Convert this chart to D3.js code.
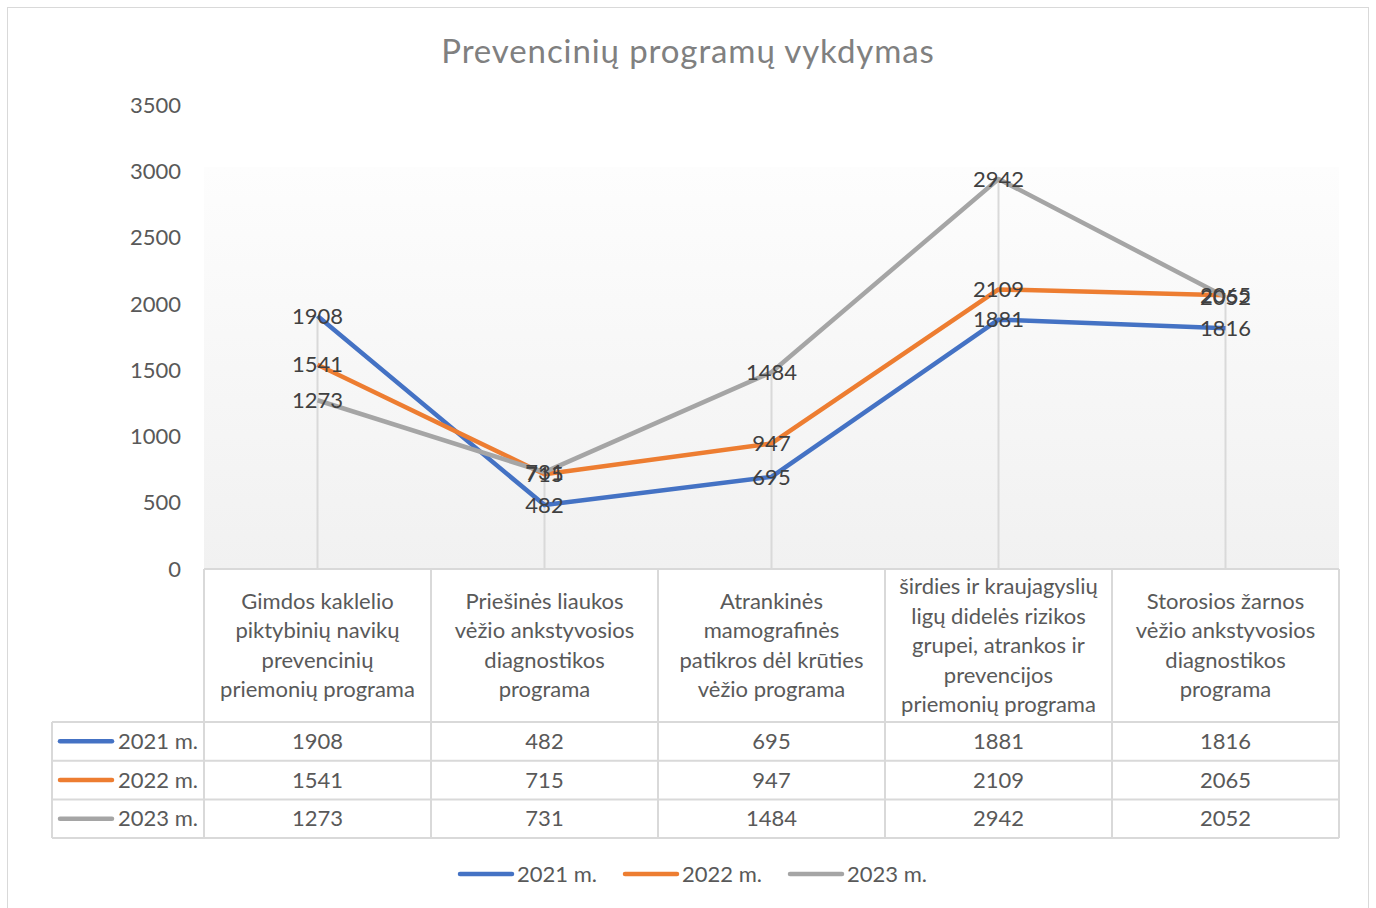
<!DOCTYPE html>
<meta charset="utf-8">
<style>
body { margin: 0; background: #fff; }
svg { display: block; font-family: Lato, "Open Sans", sans-serif; }
.tick-label { fill: #595959; font-size: 22px; }
.cell-text { fill: #595959; font-size: 22px; }
.data-label { fill: #404040; font-size: 22px; }
.grid { stroke: #d9d9d9; }
</style>
<svg width="1376" height="908"></svg>
<script src="https://d3js.org/d3.v7.min.js"></script>
<script>

var title = "Prevencinių programų vykdymas";

var categories = [
  "Gimdos kaklelio\npiktybinių navikų\nprevencinių\npriemonių programa",
  "Priešinės liaukos\nvėžio ankstyvosios\ndiagnostikos\nprograma",
  "Atrankinės\nmamografinės\npatikros dėl krūties\nvėžio programa",
  "širdies ir kraujagyslių\nligų didelės rizikos\ngrupei, atrankos ir\nprevencijos\npriemonių programa",
  "Storosios žarnos\nvėžio ankstyvosios\ndiagnostikos\nprograma"
];

var seriesNames = ["2021 m.", "2022 m.", "2023 m."];
var values2021 = [1908, 482, 695, 1881, 1816];
var values2022 = [1541, 715, 947, 2109, 2065];
var values2023 = [1273, 731, 1484, 2942, 2052];
var yTicks = [0, 500, 1000, 1500, 2000, 2500, 3000, 3500];

var colors = ["#4472c4", "#ed7d31", "#a5a5a5"];

var series = seriesNames.map(function(n, i) {
  return { name: n, values: [values2021, values2022, values2023][i], color: colors[i] };
});

var svg = d3.select("svg");

// outer chart frame
svg.append("rect")
    .attr("x", 7.5).attr("y", 7.5)
    .attr("width", 1361).attr("height", 920)
    .attr("fill", "#fff")
    .attr("stroke", "#d9d9d9");

svg.append("text")
    .attr("x", 688).attr("y", 63)
    .attr("text-anchor", "middle")
    .attr("fill", "#808080")
    .style("font-size", "33px")
    .style("letter-spacing", "0.9px")
    .text(title);

var plotLeft = 204, plotRight = 1339;

var x = d3.scaleBand()
    .domain(d3.range(categories.length))
    .range([plotLeft, plotRight]);

var y = d3.scaleLinear()
    .domain([0, 3500])
    .range([569, 105]);

// plot area gradient
var grad = svg.append("defs").append("linearGradient")
    .attr("id", "bg").attr("x1", 0).attr("y1", 0).attr("x2", 0).attr("y2", 1);
grad.append("stop").attr("offset", "0%").attr("stop-color", "#fdfdfd");
grad.append("stop").attr("offset", "100%").attr("stop-color", "#f1f1f1");

svg.append("rect")
    .attr("x", plotLeft).attr("y", 167)
    .attr("width", plotRight - plotLeft).attr("height", y(0) - 167)
    .attr("fill", "url(#bg)");

// y axis labels
svg.append("g").selectAll("text")
    .data(yTicks)
  .enter().append("text")
    .attr("class", "tick-label")
    .attr("x", 181)
    .attr("y", function(d) { return y(d); })
    .attr("dy", "0.35em")
    .attr("text-anchor", "end")
    .text(function(d) { return d; });

// drop lines from highest point
svg.append("g").selectAll("line")
    .data(categories)
  .enter().append("line")
    .attr("class", "grid")
    .attr("stroke-width", 2)
    .attr("x1", function(d, i) { return x(i) + x.bandwidth() / 2; })
    .attr("x2", function(d, i) { return x(i) + x.bandwidth() / 2; })
    .attr("y1", function(d, i) { return y(d3.max(series, function(s) { return s.values[i]; })); })
    .attr("y2", y(0));

var line = d3.line()
    .x(function(d, i) { return x(i) + x.bandwidth() / 2; })
    .y(function(d) { return y(d); });

svg.append("g").selectAll("path")
    .data(series)
  .enter().append("path")
    .attr("fill", "none")
    .attr("stroke", function(d) { return d.color; })
    .attr("stroke-width", 4.5)
    .attr("stroke-linejoin", "round")
    .attr("d", function(d) { return line(d.values); });

// data labels centred on points
series.forEach(function(s) {
  svg.append("g").selectAll("text")
      .data(s.values)
    .enter().append("text")
      .attr("class", "data-label")
      .attr("x", function(d, i) { return x(i) + x.bandwidth() / 2; })
      .attr("y", function(d) { return y(d); })
      .attr("dy", "0.35em")
      .attr("text-anchor", "middle")
      .text(function(d) { return d; });
});

// data table
var headerTop = 569, headerBottom = 722, rowH = 38.7, tableLeft = 52;
var table = svg.append("g");

table.append("rect")
    .attr("x", plotLeft).attr("y", headerTop)
    .attr("width", plotRight - plotLeft).attr("height", headerBottom - headerTop)
    .attr("fill", "#fff");

var grid = table.append("g").attr("stroke", "#d9d9d9").attr("stroke-width", 2).attr("fill", "none");
// horizontal lines
grid.append("line").attr("x1", plotLeft).attr("x2", plotRight).attr("y1", headerTop).attr("y2", headerTop);
d3.range(series.length + 1).forEach(function(r) {
  grid.append("line")
      .attr("x1", tableLeft).attr("x2", plotRight)
      .attr("y1", headerBottom + r * rowH).attr("y2", headerBottom + r * rowH);
});
// vertical lines
grid.append("line").attr("x1", tableLeft).attr("x2", tableLeft)
    .attr("y1", headerBottom).attr("y2", headerBottom + series.length * rowH);
d3.range(categories.length + 1).forEach(function(c) {
  var xx = plotLeft + c * x.bandwidth();
  grid.append("line").attr("x1", xx).attr("x2", xx)
      .attr("y1", headerTop).attr("y2", headerBottom + series.length * rowH);
});

// header text
categories.forEach(function(c, i) {
  var lines = c.split("\n");
  var lh = 29.5;
  var mid = (headerTop + headerBottom) / 2;
  var t = table.append("text")
      .attr("class", "cell-text")
      .attr("text-anchor", "middle");
  lines.forEach(function(l, j) {
    t.append("tspan")
        .attr("x", x(i) + x.bandwidth() / 2)
        .attr("y", mid + (j - (lines.length - 1) / 2) * lh)
        .attr("dy", "0.35em")
        .text(l);
  });
});

// rows
series.forEach(function(s, r) {
  var cy = headerBottom + r * rowH + rowH / 2;
  table.append("line")
      .attr("x1", 60).attr("x2", 112)
      .attr("y1", cy).attr("y2", cy)
      .attr("stroke", s.color).attr("stroke-width", 4.5)
      .attr("stroke-linecap", "round");
  table.append("text")
      .attr("class", "cell-text")
      .attr("x", 118).attr("y", cy).attr("dy", "0.35em")
      .text(s.name);
  s.values.forEach(function(v, i) {
    table.append("text")
        .attr("class", "cell-text")
        .attr("x", x(i) + x.bandwidth() / 2)
        .attr("y", cy).attr("dy", "0.35em")
        .attr("text-anchor", "middle")
        .text(v);
  });
});

// legend
var legendX = [459, 624, 789];
var legend = svg.append("g").selectAll("g")
    .data(series)
  .enter().append("g")
    .attr("transform", function(d, i) { return "translate(" + legendX[i] + ",874)"; });
legend.append("line")
    .attr("x1", 1).attr("x2", 53)
    .attr("stroke", function(d) { return d.color; })
    .attr("stroke-width", 4.5)
    .attr("stroke-linecap", "round");
legend.append("text")
    .attr("class", "cell-text")
    .attr("x", 58).attr("dy", "0.35em")
    .text(function(d) { return d.name; });

</script>
